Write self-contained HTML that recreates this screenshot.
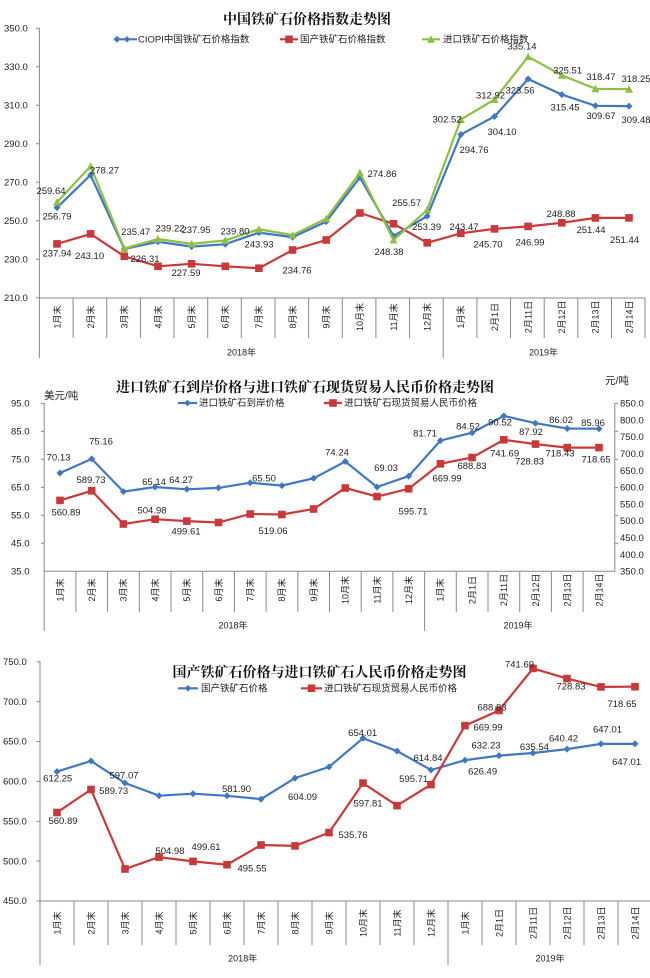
<!DOCTYPE html>
<html><head><meta charset="utf-8"><style>
html,body{margin:0;padding:0;background:#fff;}
svg{display:block;font-family:"Liberation Sans","Noto Sans CJK SC",sans-serif;}
.t{font-size:9.5px;fill:#222;}
.d{font-size:9.5px;fill:#222;text-anchor:middle;}
.c{font-size:9px;fill:#222;text-anchor:middle;}
.h{font-size:14px;font-weight:bold;fill:#111;text-anchor:middle;font-family:"Liberation Sans","Noto Serif CJK SC",serif;}
.lg{font-size:9.5px;fill:#222;}
.ax{stroke:#888;stroke-width:1;fill:none;}
.b{stroke:#3f78c0;stroke-width:2.2;fill:none;marker-start:url(#md);marker-mid:url(#md);marker-end:url(#md);}
.r{stroke:#c8393a;stroke-width:2.2;fill:none;marker-start:url(#ms);marker-mid:url(#ms);marker-end:url(#ms);}
.g{stroke:#8dbf45;stroke-width:2.2;fill:none;marker-start:url(#mt);marker-mid:url(#mt);marker-end:url(#mt);}
</style></head><body>
<svg width="650" height="978" viewBox="0 0 650 978">
<defs>
<marker id="md" markerUnits="userSpaceOnUse" markerWidth="10" markerHeight="10" refX="5" refY="5"><path d="M5 1.5L8.5 5L5 8.5L1.5 5Z" fill="#3f78c0"/></marker>
<marker id="ms" markerUnits="userSpaceOnUse" markerWidth="10" markerHeight="10" refX="5" refY="5"><rect x="1.2" y="1.2" width="7.6" height="7.6" fill="#c8393a"/></marker>
<marker id="mt" markerUnits="userSpaceOnUse" markerWidth="10" markerHeight="10" refX="5" refY="5"><path d="M5 1L9 8.5L1 8.5Z" fill="#8dbf45"/></marker>
</defs>

<!-- ========== CHART 1 ========== -->
<text class="h" x="307" y="24">中国铁矿石价格指数走势图</text>
<path class="ax" d="M39.4 28V298H645M39.4 298V358M73.1 298V338M106.7 298V338M140.4 298V338M174 298V338M207.7 298V338M241.3 298V338M275 298V338M308.6 298V338M342.3 298V338M375.9 298V338M409.6 298V338M443.2 298V358M476.9 298V338M510.5 298V338M544.2 298V338M577.8 298V338M611.5 298V338M645 298V338M36 28.3H39.4M36 66.8H39.4M36 105.3H39.4M36 143.8H39.4M36 182.2H39.4M36 220.7H39.4M36 259.2H39.4M36 297.7H39.4"/>
<g class="t"><text x="4" y="31.5">350.0</text><text x="4" y="70">330.0</text><text x="4" y="108.5">310.0</text><text x="4" y="147">290.0</text><text x="4" y="185.4">270.0</text><text x="4" y="224">250.0</text><text x="4" y="262.4">230.0</text><text x="4" y="301">210.0</text></g>
<line x1="117" y1="39.3" x2="137" y2="39.3" stroke="#3f78c0" stroke-width="2.2" marker-mid="url(#md)" marker-start="url(#md)"/><path d="M127 36L130 39.3L127 42.6L124 39.3Z" fill="#3f78c0"/>
<text class="lg" x="138" y="42.5">CIOPI中国铁矿石价格指数</text>
<line x1="280" y1="39.3" x2="298" y2="39.3" stroke="#c8393a" stroke-width="2.2"/><rect x="285.2" y="35.5" width="7.6" height="7.6" fill="#c8393a"/>
<text class="lg" x="300" y="42.5">国产铁矿石价格指数</text>
<line x1="422" y1="39.3" x2="440" y2="39.3" stroke="#8dbf45" stroke-width="2.2"/><path d="M431 35.3L435 42.8L427 42.8Z" fill="#8dbf45"/>
<text class="lg" x="443" y="42.5">进口铁矿石价格指数</text>
<polyline class="r" points="57,243.9 90.6,233.9 124.3,256.3 158,266.3 191.6,263.8 225.3,266.3 258.9,268.2 292.6,250 326.2,240 359.9,213 393.5,223.8 427.2,242.8 460.8,233.3 494.5,228.9 528.1,226.4 561.8,222.8 595.4,217.9 629,217.9"/>
<polyline class="b" points="57,207.6 90.6,175 124.3,249 158,241.8 191.6,246.6 225.3,244.2 258.9,232.6 292.6,237.2 326.2,221.6 359.9,177.4 393.5,236.1 427.2,216.1 460.8,134.5 494.5,116.5 528.1,79 561.8,94.6 595.4,105.8 629,106.1"/>
<polyline class="g" points="57,202.1 90.6,166.2 124.3,248.6 158,239 191.6,243.9 225.3,240.4 258.9,229.3 292.6,235.1 326.2,218.7 359.9,172.8 393.5,240 427.2,209.9 460.8,119.5 494.5,99.5 528.1,56.7 561.8,75.3 595.4,88.8 629,89.2"/>
<g class="d">
<text x="51" y="194">259.64</text><text x="57" y="219.6">256.79</text><text x="104.5" y="173.5">278.27</text><text x="135.7" y="235.2">235.47</text><text x="170" y="231.6">239.22</text><text x="196" y="232.8">237.95</text><text x="235" y="234.5">239.80</text><text x="259" y="247.7">243.93</text><text x="297" y="273.5">234.76</text><text x="382" y="177">274.86</text><text x="406.6" y="205.9">255.57</text><text x="389" y="254.9">248.38</text><text x="426.6" y="230">253.39</text><text x="447" y="122.4">302.52</text><text x="474" y="152.9">294.76</text><text x="490.5" y="98.3">312.92</text><text x="502" y="135.2">304.10</text><text x="522" y="49.3">335.14</text><text x="520" y="93.5">323.56</text><text x="567.6" y="73.4">325.51</text><text x="565" y="110.3">315.45</text><text x="601" y="79.8">318.47</text><text x="601" y="119.2">309.67</text><text x="636" y="82.2">318.25</text><text x="636" y="122.8">309.48</text>
<text x="57" y="256.5">237.94</text><text x="89.6" y="259">243.10</text><text x="145" y="261.8">226.31</text><text x="186" y="275.8">227.59</text><text x="464" y="230">243.47</text><text x="488" y="247.7">245.70</text><text x="530" y="245.3">246.99</text><text x="561" y="216.9">248.88</text><text x="591" y="233.2">251.44</text><text x="624.5" y="242.9">251.44</text>
</g>
<g class="c">
<text transform="translate(60.3,317) rotate(-90)">1月末</text><text transform="translate(93.9,317) rotate(-90)">2月末</text><text transform="translate(127.6,317) rotate(-90)">3月末</text><text transform="translate(161.3,317) rotate(-90)">4月末</text><text transform="translate(194.9,317) rotate(-90)">5月末</text><text transform="translate(228.6,317) rotate(-90)">6月末</text><text transform="translate(262.2,317) rotate(-90)">7月末</text><text transform="translate(295.9,317) rotate(-90)">8月末</text><text transform="translate(329.5,317) rotate(-90)">9月末</text><text transform="translate(363.2,317) rotate(-90)">10月末</text><text transform="translate(396.8,317) rotate(-90)">11月末</text><text transform="translate(430.5,317) rotate(-90)">12月末</text><text transform="translate(464.1,317) rotate(-90)">1月末</text><text transform="translate(497.8,317) rotate(-90)">2月1日</text><text transform="translate(531.4,317) rotate(-90)">2月11日</text><text transform="translate(565.1,317) rotate(-90)">2月12日</text><text transform="translate(598.7,317) rotate(-90)">2月13日</text><text transform="translate(632.3,317) rotate(-90)">2月14日</text>
<text x="241.5" y="355.5">2018年</text><text x="543.5" y="355.5">2019年</text>
</g>

<!-- ========== CHART 2 ========== -->
<text class="h" x="305" y="392">进口铁矿石到岸价格与进口铁矿石现货贸易人民币价格走势图</text>
<text class="lg" x="44" y="399" style="font-size:10.5px">美元/吨</text>
<text class="lg" x="605" y="384" style="font-size:10.5px">元/吨</text>
<path class="ax" d="M44.2 403V571.3H614.8V403M44.2 571.3V631M75.9 571.3V612M107.6 571.3V612M139.3 571.3V612M171 571.3V612M202.7 571.3V612M234.4 571.3V612M266.1 571.3V612M297.8 571.3V612M329.5 571.3V612M361.2 571.3V612M392.9 571.3V612M424.6 571.3V631M456.3 571.3V612M488 571.3V612M519.7 571.3V612M551.4 571.3V612M583.1 571.3V612M41 403.4H44.2M41 431.4H44.2M41 459.4H44.2M41 487.4H44.2M41 515.4H44.2M41 543.3H44.2M614.8 403.4H618M614.8 431.4H618M614.8 459.4H618M614.8 487.4H618M614.8 515.4H618M614.8 543.3H618"/>
<g class="t"><text x="11" y="406.6">95.0</text><text x="11" y="434.6">85.0</text><text x="11" y="462.6">75.0</text><text x="11" y="490.6">65.0</text><text x="11" y="518.6">55.0</text><text x="11" y="546.5">45.0</text><text x="11" y="574.5">35.0</text>
<text x="620" y="406.6">850.0</text><text x="620" y="423.4">800.0</text><text x="620" y="440.2">750.0</text><text x="620" y="457">700.0</text><text x="620" y="473.8">650.0</text><text x="620" y="490.6">600.0</text><text x="620" y="507.4">550.0</text><text x="620" y="524.2">500.0</text><text x="620" y="541">450.0</text><text x="620" y="557.8">400.0</text><text x="620" y="574.5">350.0</text></g>
<line x1="178" y1="403" x2="197" y2="403" stroke="#3f78c0" stroke-width="2.2"/><path d="M187.5 399.7L190.8 403L187.5 406.3L184.2 403Z" fill="#3f78c0"/>
<text class="lg" x="199" y="406.2">进口铁矿石到岸价格</text>
<line x1="324" y1="403" x2="342" y2="403" stroke="#c8393a" stroke-width="2.2"/><rect x="329.2" y="399.2" width="7.6" height="7.6" fill="#c8393a"/>
<text class="lg" x="344" y="406.2">进口铁矿石现货贸易人民币价格</text>
<polyline class="r" points="60,500.4 91.7,490.8 123.4,524 155.1,519.2 186.8,521.1 218.5,522.5 250.2,514 281.9,514.5 313.6,509 345.3,488 377,496.6 408.7,488.8 440.4,463.8 472.1,457.5 503.8,439.8 535.5,444.1 567.2,447.6 599,447.6"/>
<polyline class="b" points="60,473 91.7,458.9 123.4,491.6 155.1,487 186.8,489.3 218.5,487.9 250.2,482.7 281.9,485.6 313.6,478.3 345.3,461.5 377,487 408.7,476.1 440.4,440.6 472.1,432.7 503.8,415.9 535.5,423.2 567.2,428.5 599,428.7"/>
<g class="d">
<text x="58.5" y="460.7">70.13</text><text x="101" y="444.6">75.16</text><text x="91" y="482.8">589.73</text><text x="66" y="515.3">560.89</text><text x="154" y="484.8">65.14</text><text x="181" y="482.8">64.27</text><text x="152" y="513.7">504.98</text><text x="186" y="534.6">499.61</text><text x="264" y="481.6">65.50</text><text x="273" y="533.8">519.06</text><text x="337" y="455.5">74.24</text><text x="386" y="470.8">69.03</text><text x="413" y="514.5">595.71</text><text x="425" y="436.6">81.71</text><text x="468" y="429.4">84.52</text><text x="500" y="425.4">90.52</text><text x="531" y="435">87.92</text><text x="561" y="422.9">86.02</text><text x="593" y="426.2">85.96</text><text x="447" y="481.6">669.99</text><text x="472" y="469.1">688.83</text><text x="504.6" y="456.7">741.69</text><text x="529.5" y="464.5">728.83</text><text x="560" y="456.7">718.43</text><text x="596" y="462.3">718.65</text>
</g>
<g class="c">
<text transform="translate(63.3,590) rotate(-90)">1月末</text><text transform="translate(95,590) rotate(-90)">2月末</text><text transform="translate(126.7,590) rotate(-90)">3月末</text><text transform="translate(158.4,590) rotate(-90)">4月末</text><text transform="translate(190.1,590) rotate(-90)">5月末</text><text transform="translate(221.8,590) rotate(-90)">6月末</text><text transform="translate(253.5,590) rotate(-90)">7月末</text><text transform="translate(285.2,590) rotate(-90)">8月末</text><text transform="translate(316.9,590) rotate(-90)">9月末</text><text transform="translate(348.6,590) rotate(-90)">10月末</text><text transform="translate(380.3,590) rotate(-90)">11月末</text><text transform="translate(412,590) rotate(-90)">12月末</text><text transform="translate(443.7,590) rotate(-90)">1月末</text><text transform="translate(475.4,590) rotate(-90)">2月1日</text><text transform="translate(507.1,590) rotate(-90)">2月11日</text><text transform="translate(538.8,590) rotate(-90)">2月12日</text><text transform="translate(570.5,590) rotate(-90)">2月13日</text><text transform="translate(602.3,590) rotate(-90)">2月14日</text>
<text x="233" y="628.5">2018年</text><text x="518" y="628.5">2019年</text>
</g>

<!-- ========== CHART 3 ========== -->
<text class="h" x="319.5" y="677">国产铁矿石价格与进口铁矿石人民币价格走势图</text>
<path class="ax" d="M40 661V901H650M40 901V965M74 901V945M108 901V945M142 901V945M176 901V945M210 901V945M244 901V945M278 901V945M312 901V945M346 901V945M380 901V945M414 901V945M448 901V965M482 901V945M516 901V945M550 901V945M584 901V945M618 901V945M36.6 661.7H40M36.6 701.6H40M36.6 741.5H40M36.6 781.4H40M36.6 821.2H40M36.6 861.1H40M36.6 901H40"/>
<g class="t"><text x="3" y="665">750.0</text><text x="3" y="704.8">700.0</text><text x="3" y="744.7">650.0</text><text x="3" y="784.6">600.0</text><text x="3" y="824.4">550.0</text><text x="3" y="864.3">500.0</text><text x="3" y="904.2">450.0</text></g>
<line x1="178" y1="688.3" x2="198" y2="688.3" stroke="#3f78c0" stroke-width="2.2"/><path d="M188 685L191.3 688.3L188 691.6L184.7 688.3Z" fill="#3f78c0"/>
<text class="lg" x="201" y="691.5">国产铁矿石价格</text>
<line x1="301" y1="688.3" x2="322" y2="688.3" stroke="#c8393a" stroke-width="2.2"/><rect x="307.7" y="684.5" width="7.6" height="7.6" fill="#c8393a"/>
<text class="lg" x="324" y="691.5">进口铁矿石现货贸易人民币价格</text>
<polyline class="b" points="57,771.6 91,761 125,783 159,795.7 193,793.7 227,795.8 261,799.1 295,778.1 329,766.9 363,738.2 397,751 431,770 465,760.2 499,755.6 533,753 567,749.1 601,743.9 635,743.9"/>
<polyline class="r" points="57,812.5 91,789.5 125,869 159,857.1 193,861.4 227,864.7 261,845 295,845.9 329,832.6 363,783.1 397,805.6 431,784.6 465,725.6 499,710.5 533,668.4 567,678.6 601,686.9 635,686.7"/>
<g class="d">
<text x="57.7" y="781.7">612.25</text><text x="124" y="778.5">597.07</text><text x="236.5" y="792.1">581.90</text><text x="302.5" y="800.1">604.09</text><text x="362.7" y="735.9">654.01</text><text x="428" y="761.2">614.84</text><text x="482.6" y="774.4">626.49</text><text x="486" y="748.5">632.23</text><text x="534.4" y="749.9">635.54</text><text x="563.5" y="741.5">640.42</text><text x="607.5" y="732.7">647.01</text><text x="626.6" y="765.2">647.01</text>
<text x="63" y="824.2">560.89</text><text x="113.7" y="794.1">589.73</text><text x="170" y="854">504.98</text><text x="206" y="850">499.61</text><text x="252" y="871.7">495.55</text><text x="353" y="837.9">535.76</text><text x="368" y="806.6">597.81</text><text x="413.7" y="782.2">595.71</text><text x="488" y="730.3">669.99</text><text x="492" y="710.5">688.83</text><text x="519.5" y="667.6">741.69</text><text x="571" y="689.3">728.83</text><text x="622" y="707">718.65</text>
</g>
<g class="c">
<text transform="translate(60.3,923) rotate(-90)">1月末</text><text transform="translate(94.3,923) rotate(-90)">2月末</text><text transform="translate(128.3,923) rotate(-90)">3月末</text><text transform="translate(162.3,923) rotate(-90)">4月末</text><text transform="translate(196.3,923) rotate(-90)">5月末</text><text transform="translate(230.3,923) rotate(-90)">6月末</text><text transform="translate(264.3,923) rotate(-90)">7月末</text><text transform="translate(298.3,923) rotate(-90)">8月末</text><text transform="translate(332.3,923) rotate(-90)">9月末</text><text transform="translate(366.3,923) rotate(-90)">10月末</text><text transform="translate(400.3,923) rotate(-90)">11月末</text><text transform="translate(434.3,923) rotate(-90)">12月末</text><text transform="translate(468.3,923) rotate(-90)">1月末</text><text transform="translate(502.3,923) rotate(-90)">2月1日</text><text transform="translate(536.3,923) rotate(-90)">2月11日</text><text transform="translate(570.3,923) rotate(-90)">2月12日</text><text transform="translate(604.3,923) rotate(-90)">2月13日</text><text transform="translate(638.3,923) rotate(-90)">2月14日</text>
<text x="242.7" y="961.5">2018年</text><text x="550" y="961.5">2019年</text>
</g>
</svg>
</body></html>
